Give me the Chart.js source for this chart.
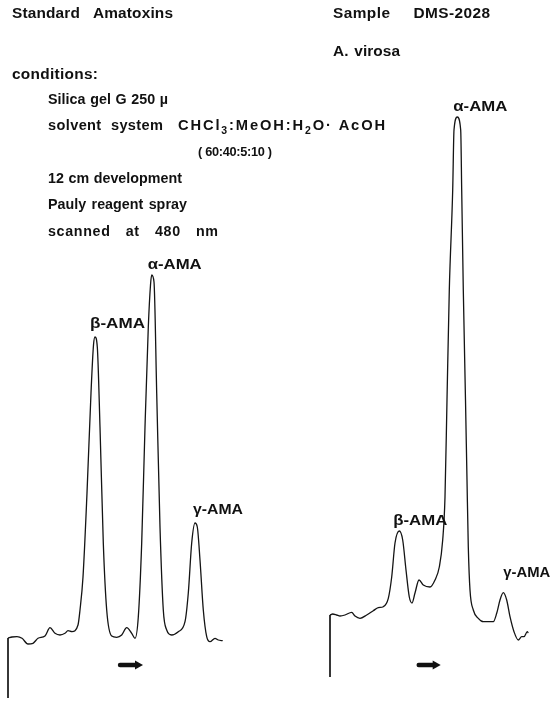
<!DOCTYPE html>
<html>
<head>
<meta charset="utf-8">
<script src="https://cdn.jsdelivr.net/npm/chart.js@4.4.1/dist/chart.umd.min.js"></script>
<style>
html,body{margin:0;padding:0;background:#fff;}
#wrap{position:relative;width:550px;height:701px;}
</style>
</head>
<body>
<div id="wrap"><canvas id="c" width="550" height="701"></canvas></div>
<script>
// ---- Data (scan position / detector response, relative units) ----
const stdPos = [0, 4, 9, 14, 20, 25, 30, 37, 42, 47, 52, 57, 60, 64, 70, 72, 75, 79, 83, 85.5, 87, 89.3, 92, 95.3, 98.7, 103.7, 108.7, 113.7, 118.7, 123.7, 127, 130.3, 133.7, 137, 140.3, 142.5, 143.7, 146, 148.7, 152, 155.3, 158.7, 163.7, 170.3, 177, 180.3, 183.7, 187, 189.3, 192, 195.3, 198.7, 202, 207, 210.3, 214.7];
const stdResp = [60, 61, 61.3, 59.7, 54, 54.7, 59.7, 62, 70.3, 64.7, 63, 64.7, 67.3, 66.3, 73, 88, 121, 205, 305, 353, 361, 351, 271, 155, 88, 62, 60.7, 63, 70.3, 64.7, 59.7, 81, 155, 271, 371, 413, 423, 416, 305, 171, 88, 68, 63, 66.3, 76.3, 105, 155, 175, 171, 138, 88, 61.3, 56.3, 59.7, 58, 57.3];

const samplePos = [0, 2.7, 6.7, 10, 15, 21.7, 25, 30, 36.7, 43.3, 48.3, 53.3, 58.3, 61.7, 65, 69.3, 72.7, 76, 79.3, 82, 85, 89, 93.3, 100, 105, 109.3, 112.7, 115, 117, 119.3, 122.7, 124, 127.3, 130.7, 131.7, 133.3, 135.5, 137, 138.3, 140, 143.3, 148.3, 153.3, 158.3, 163.3, 166.7, 170, 173.3, 176.7, 180, 184, 188.3, 191.7, 194, 197.3, 198.3];
const sampleResp = [62, 63, 62, 61, 62, 64.7, 61, 58.7, 62, 66.3, 69.3, 70.3, 78.7, 100, 134, 146, 137, 107, 80, 74, 84, 97, 92, 90, 97, 110, 137, 180, 277, 387, 487, 547, 560, 547, 487, 387, 277, 197, 130, 87, 67, 58.7, 55.3, 55.3, 55.3, 63.7, 77, 84.3, 77, 60.3, 45.3, 37, 40.3, 40.3, 45.3, 44];

const peakNames = ['β-AMA', 'α-AMA', 'γ-AMA'];
const stdPeakPos = [87, 143.7, 187];
const samplePeakPos = [69.3, 127.3, 173.3];

// development direction arrows (scan position range, response level)
const stdArrow = [110, 135, 33];
const sampleArrow = [86.7, 110.7, 12];

// ---- Texts ----
const FAMILY = '"Liberation Sans", Arial, Helvetica, sans-serif';
const headerTexts = [
  // runs, x, centerY, targetWidth, size, horizontal stretch, share of extra width put in word gaps
  [[{t: 'Standard Amatoxins'}], 12, 13, 161, 14, 1.1, 0.75],
  [[{t: 'Sample DMS-2028'}], 333, 13, 157, 14, 1.1, 0.75],
  [[{t: 'A. virosa'}], 333, 51, 67, 14, 1.1, 0.75],
  [[{t: 'conditions:'}], 12, 74, 86, 14, 1.1, 0.75],
  [[{t: 'Silica gel G 250 µ'}], 48, 99, 120, 14, 1.02, 0.75],
  [[{t: 'solvent system'}], 48, 125, 115, 14, 1.04, 0.5],
  [[{t: 'CHCl'}, {t: '3', sub: true}, {t: ':MeOH:H'}, {t: '2', sub: true}, {t: 'O· AcOH'}], 178, 125, 207, 14, 1.05, 0],
  [[{t: '( 60:40:5:10 )'}], 198, 151, 74, 13, 0.98, 0.75],
  [[{t: '12 cm development'}], 48, 178, 134, 14, 1.02, 0.75],
  [[{t: 'Pauly reagent spray'}], 48, 204, 139, 14, 1.02, 0.75],
  [[{t: 'scanned at 480 nm'}], 48, 231, 170, 14, 1.02, 0.75]
];
// label placement: [dx, dy from peak apex to label baseline-left, width]
const LABEL_SIZE = 15;
const stdLabelStyle = [[-5, -9, 55], [-4, -6, 54], [-2, -9, 50]];
const sampleLabelStyle = [[-6, -6, 54], [-4, -6, 54], [0, -16, 47]];

function fontFor(size, sub) { return 'bold ' + (sub ? Math.round(size * 0.72) : size) + 'px ' + FAMILY; }

function drawRuns(ctx, runs, x, base, targetW, size, stretch, wordShare) {
  ctx.letterSpacing = '0px';
  ctx.wordSpacing = '0px';
  let natural = 0, n = 0, spaces = 0;
  runs.forEach(r => {
    ctx.font = fontFor(size, r.sub);
    natural += ctx.measureText(r.t).width;
    n += [...r.t].length;
    spaces += (r.t.match(/ /g) || []).length;
  });
  if (!stretch) stretch = Math.max(0.92, Math.min(1.15, targetW / natural));
  const residual = (targetW - natural * stretch) / stretch;
  let ls = 0, ws = 0;
  if (wordShare && spaces > 0 && residual > 0 && runs.length === 1) {
    ws = residual * wordShare / spaces;
    ls = residual * (1 - wordShare) / Math.max(1, n - 1);
  } else {
    ls = residual / Math.max(1, n - 1);
  }
  ctx.save();
  ctx.translate(x, base);
  ctx.scale(stretch, 1);
  let cx = 0;
  runs.forEach(r => {
    ctx.font = fontFor(size, r.sub);
    ctx.letterSpacing = ls.toFixed(2) + 'px';
    ctx.wordSpacing = ws.toFixed(2) + 'px';
    ctx.fillText(r.t, cx, r.sub ? size * 0.3 : 0);
    cx += ctx.measureText(r.t).width;
  });
  ctx.restore();
  ctx.letterSpacing = '0px';
  ctx.wordSpacing = '0px';
}

function peakPoint(pos, resp, p) {
  let best = 0;
  pos.forEach((v, i) => { if (Math.abs(v - p) < Math.abs(pos[best] - p)) best = i; });
  return [pos[best], resp[best]];
}

function drawArrow(ctx, xs, ys, a) {
  const x1 = xs.getPixelForValue(a[0]), x2 = xs.getPixelForValue(a[1]), y = ys.getPixelForValue(a[2]);
  ctx.save();
  ctx.strokeStyle = '#111'; ctx.fillStyle = '#111';
  ctx.lineWidth = 4.4; ctx.lineCap = 'round';
  ctx.beginPath(); ctx.moveTo(x1 + 2, y); ctx.lineTo(x2 - 6, y); ctx.stroke();
  ctx.beginPath(); ctx.moveTo(x2, y); ctx.lineTo(x2 - 8, y - 4.4); ctx.lineTo(x2 - 8, y + 4.4); ctx.closePath(); ctx.fill();
  ctx.restore();
}

const annotPlugin = {
  id: 'annot',
  afterDraw(chart) {
    const ctx = chart.ctx;
    ctx.save();
    ctx.fillStyle = '#111';
    ctx.textBaseline = 'alphabetic';
    ctx.textAlign = 'left';
    headerTexts.forEach(h => drawRuns(ctx, h[0], h[1], h[2] + h[4] * 0.716 / 2, h[3], h[4], h[5], h[6]));
    const groups = [
      [stdPos, stdResp, stdPeakPos, stdLabelStyle, chart.scales.x, chart.scales.y],
      [samplePos, sampleResp, samplePeakPos, sampleLabelStyle, chart.scales.xR, chart.scales.yR]
    ];
    groups.forEach(g => {
      g[2].forEach((p, i) => {
        const pt = peakPoint(g[0], g[1], p);
        const px = g[4].getPixelForValue(pt[0]), py = g[5].getPixelForValue(pt[1]);
        const st = g[3][i];
        drawRuns(ctx, [{t: peakNames[i]}], px + st[0], py + st[1], st[2], LABEL_SIZE, 0, 0);
      });
    });
    ctx.restore();
    drawArrow(ctx, chart.scales.x, chart.scales.y, stdArrow);
    drawArrow(ctx, chart.scales.xR, chart.scales.yR, sampleArrow);
  }
};

const traceStyle = {showLine: true, pointRadius: 0, borderColor: '#141414', borderWidth: 1.3, cubicInterpolationMode: 'monotone', fill: false};
const axisStyle = {showLine: true, pointRadius: 0, borderColor: '#141414', borderWidth: 1.7, fill: false};

new Chart(document.getElementById('c'), {
  type: 'scatter',
  data: {
    datasets: [
      Object.assign({label: 'Standard amatoxins', data: stdPos.map((x, i) => ({x, y: stdResp[i]})), xAxisID: 'x', yAxisID: 'y'}, traceStyle),
      Object.assign({label: 'Standard start', data: [{x: 0, y: 0}, {x: 0, y: stdResp[0]}], xAxisID: 'x', yAxisID: 'y'}, axisStyle),
      Object.assign({label: 'Sample DMS-2028', data: samplePos.map((x, i) => ({x, y: sampleResp[i]})), xAxisID: 'xR', yAxisID: 'yR'}, traceStyle),
      Object.assign({label: 'Sample start', data: [{x: 0, y: 0}, {x: 0, y: sampleResp[0]}], xAxisID: 'xR', yAxisID: 'yR'}, axisStyle)
    ]
  },
  options: {
    responsive: false,
    animation: false,
    devicePixelRatio: 1,
    events: [],
    layout: {padding: 0},
    plugins: {legend: {display: false}, tooltip: {enabled: false}, title: {display: false}},
    scales: {
      x: {type: 'linear', display: false, min: -8, max: 542},
      y: {type: 'linear', display: false, min: -3, max: 698},
      xR: {type: 'linear', axis: 'x', display: false, min: -330, max: 220},
      yR: {type: 'linear', axis: 'y', display: false, min: -24, max: 677}
    }
  },
  plugins: [annotPlugin]
});
</script>
</body>
</html>
